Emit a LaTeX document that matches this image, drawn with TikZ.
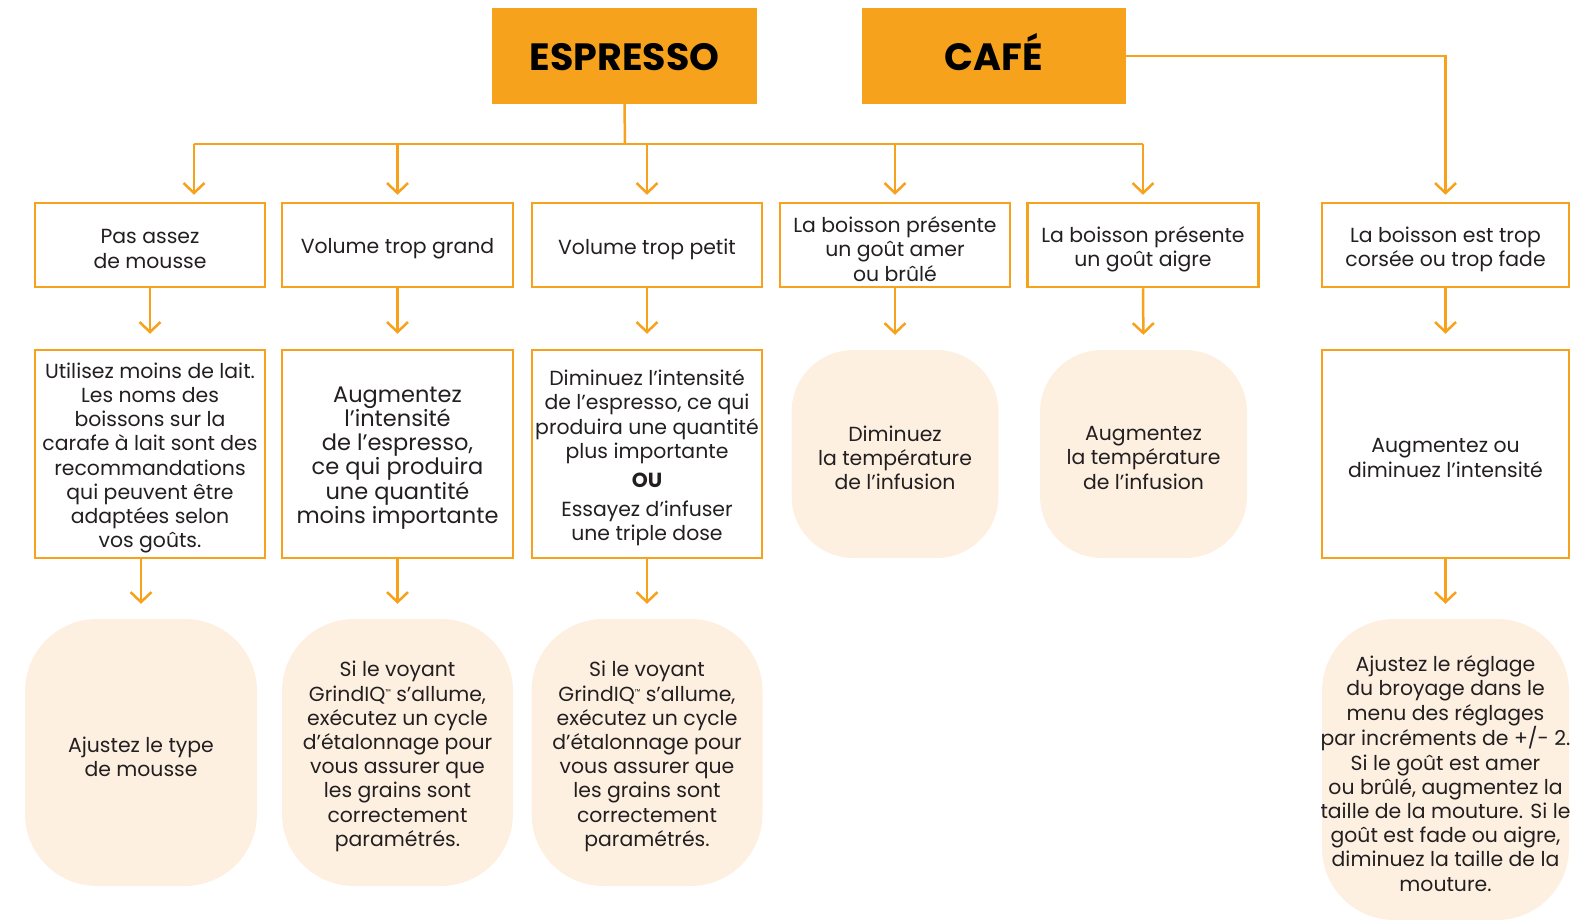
\documentclass[tikz,border=0pt]{standalone}
\usepackage{fontspec}
\setmainfont{Poppins}
\usetikzlibrary{arrows.meta}
\definecolor{org}{HTML}{F7A21C}
\definecolor{cream}{HTML}{FEF0E1}
\definecolor{ink}{HTML}{231F20}
\tikzset{
  head/.style={fill=org, minimum width=265pt, minimum height=96pt, inner sep=0pt, text=black, text height=30pt, text depth=0pt, font=\fontsize{38}{42}\selectfont\bfseries},
  txt/.style={text=ink, align=center, inner sep=0pt, yshift=-4pt, font=\fontsize{20.4}{24.2}\selectfont},
  box/.style={draw=org, line width=2.5pt, fill=white, inner sep=0pt, minimum width=230pt, minimum height=84pt},
  tall/.style={box, minimum height=208pt},
  soft/.style={fill=cream, inner sep=0pt, rounded corners=62pt, minimum width=207pt, minimum height=208pt},
  softb/.style={soft, rounded corners=72pt, minimum width=231pt, minimum height=267pt},
  ln/.style={draw=org, line width=2.5pt},
  arr/.style={ln, -{Straight Barb[length=10pt,width=21pt,line width=2.5pt]}},
}
\newcommand{\tm}{{\fontsize{7}{7}\selectfont\raisebox{7pt}{™}}}
\begin{document}
\begin{tikzpicture}[x=1pt,y=-1pt]
\useasboundingbox (0,0) rectangle (1579,920);
% headers
\node[head] (esp) at (624.5,56) {ESPRESSO};
\node[head, minimum width=264pt] (cafe) at (994,56) {CAFÉ};
% row 1 shapes
\node[box] (a1) at (150,245) {};
\node[box, minimum width=231pt] (a2) at (397.5,245) {};
\node[box] (a3) at (647,245) {};
\node[box] (a4) at (895,245) {};
\node[box, minimum width=231pt] (a5) at (1143,245) {};
\node[box, minimum width=247pt] (a6) at (1445.5,245) {};
% row 2 shapes
\node[tall] (b1) at (150,454) {};
\node[tall, minimum width=231pt] (b2) at (397.5,454) {};
\node[tall] (b3) at (647,454) {};
\node[soft] (b4) at (895,454) {};
\node[soft] (b5) at (1143.5,454) {};
\node[tall, minimum width=247pt] (b6) at (1445.5,454) {};
% row 3 shapes
\node[softb, minimum width=232pt] (c1) at (141,752.5) {};
\node[softb] (c2) at (397.5,752.5) {};
\node[softb] (c3) at (647,752.5) {};
\node[softb, minimum width=247pt, minimum height=301pt] (c6) at (1445.5,769.5) {};
% texts
\node[txt] (a1t) at (a1) {Pas assez\\de mousse};
\node[txt] (a2t) at (a2) {Volume trop grand};
\node[txt] (a3t) at (a3) {Volume trop petit};
\node[txt] (a4t) at (a4) {La boisson présente\\un goût amer\\ou brûlé};
\node[txt] (a5t) at (a5) {La boisson présente\\un goût aigre};
\node[txt] (a6t) at (a6) {La boisson est trop\\corsée ou trop fade};
\node[txt] (b1t) at (b1) {Utilisez moins de lait.\\Les noms des\\boissons sur la\\carafe à lait sont des\\recommandations\\qui peuvent être\\adaptées selon\\vos goûts.};
\node[txt, font=\fontsize{22.5}{24.2}\selectfont] (b2t) at (b2) {Augmentez\\l’intensité\\de l’espresso,\\ce qui produira\\une quantité\\moins importante};
\node[txt] (b3t) at (b3) {Diminuez l’intensité\\de l’espresso, ce qui\\produira une quantité\\plus importante\\[5pt]\textbf{OU}\\[5pt]Essayez d’infuser\\une triple dose};
\node[txt] (b4t) at (b4) {Diminuez\\la température\\de l’infusion};
\node[txt] (b5t) at (b5) {Augmentez\\la température\\de l’infusion};
\node[txt] (b6t) at (b6) {Augmentez ou\\diminuez l’intensité};
\node[txt] (c1t) at (c1) {Ajustez le type\\de mousse};
\node[txt] (c2t) at (c2) {Si le voyant\\GrindIQ\tm{} s’allume,\\exécutez un cycle\\d’étalonnage pour\\vous assurer que\\les grains sont\\correctement\\paramétrés.};
\node[txt] (c3t) at (c3) {Si le voyant\\GrindIQ\tm{} s’allume,\\exécutez un cycle\\d’étalonnage pour\\vous assurer que\\les grains sont\\correctement\\paramétrés.};
\node[txt] (c6t) at (c6) {Ajustez le réglage\\du broyage dans le\\menu des réglages\\par incréments de +/- 2.\\Si le goût est amer\\ou brûlé, augmentez la\\taille de la mouture. Si le\\goût est fade ou aigre,\\diminuez la taille de la\\mouture.};
% connectors
\coordinate (bus) at (625,144);
\coordinate (bus1) at (194,144);
\draw[ln] (esp.south) -- (bus);
\draw[ln] (bus1) -- (bus -| a5);
\draw[arr, shorten >=7pt] (bus1) -- (bus1 |- a1.north);
\foreach \n in {a2,a3,a4,a5}{
  \draw[arr, shorten >=7pt] (bus -| \n) -- (\n.north);
}
\draw[arr, shorten >=7pt] (cafe.east) -| (a6.north);
\foreach \s/\t in {a1/b1,a2/b2,a3/b3,a4/b4,a5/b5,a6/b6}{
  \draw[arr, shorten >=15pt] (\s.south) -- (\t.north);
}
\draw[arr, shorten >=15pt] (b1.south -| c1.north) -- (c1.north);
\foreach \s/\t in {b2/c2,b3/c3,b6/c6}{
  \draw[arr, shorten >=15pt] (\s.south) -- (\t.north);
}
\end{tikzpicture}
\end{document}
